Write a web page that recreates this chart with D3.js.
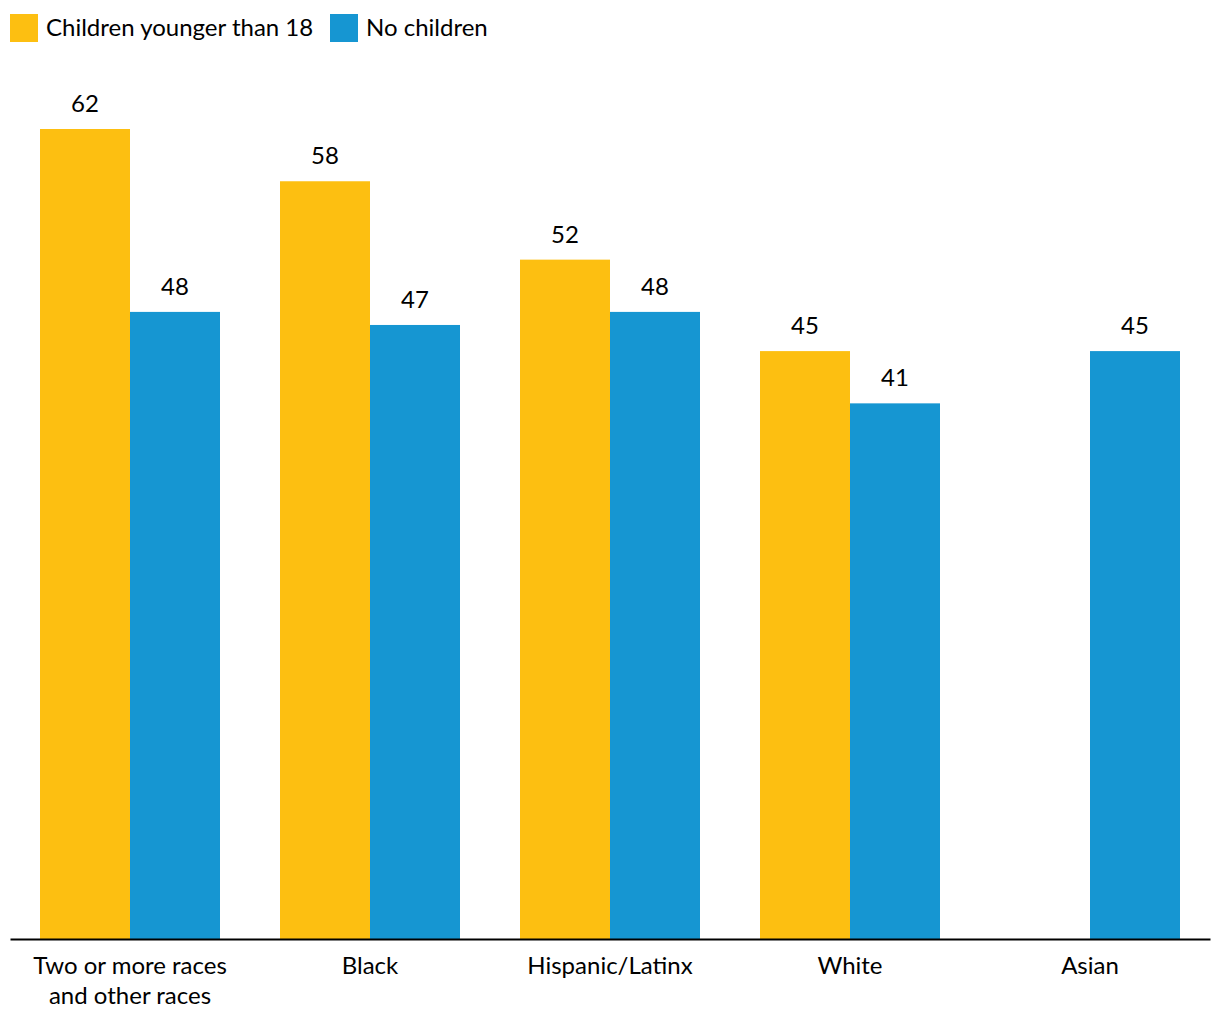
<!DOCTYPE html>
<html>
<head>
<meta charset="utf-8">
<script src="https://cdn.jsdelivr.net/npm/d3@7"></script>
<style>
  html, body { margin: 0; padding: 0; background: #fff; }
  svg { display: block; font-family: Lato, "Open Sans", sans-serif; }
</style>
</head>
<body>
<svg id="chart" width="1220" height="1020"></svg>
<script>
const categories = [["Two or more races", "and other races"], ["Black"], ["Hispanic/Latinx"], ["White"], ["Asian"]];
const seriesNames = ["Children younger than 18", "No children"];
const childrenValues = [62, 58, 52, 45, null];
const noChildrenValues = [48, 47, 48, 41, 45];
const colors = ["#fdbf11", "#1696d2"];

const svg = d3.select("#chart");
const baseY = 939;
const FS = 24;

const catKeys = categories.map(c => c.join(" "));
const x0 = d3.scaleBand().domain(catKeys).range([10, 1210]).paddingInner(0.25).paddingOuter(0.125);
const x1 = d3.scaleBand().domain(seriesNames).range([0, x0.bandwidth()]);
const y = d3.scaleLinear().domain([0, 62]).range([baseY, 129]);

const series = [childrenValues, noChildrenValues];

const groups = svg.append("g").selectAll("g")
  .data(catKeys)
  .join("g")
  .attr("transform", d => `translate(${x0(d)},0)`);

groups.each(function(key, i) {
  const g = d3.select(this);
  seriesNames.forEach((s, j) => {
    const v = series[j][i];
    if (v == null) return;
    g.append("rect")
      .attr("x", x1(s))
      .attr("y", y(v))
      .attr("width", x1.bandwidth())
      .attr("height", baseY - y(v))
      .attr("fill", colors[j]);
    g.append("text")
      .attr("x", x1(s) + x1.bandwidth() / 2)
      .attr("y", y(v) - 17)
      .attr("text-anchor", "middle")
      .attr("font-size", FS)
      .attr("fill", "#000")
      .text(v);
  });
});

// axis
const xAxis = d3.axisBottom(x0).tickSize(0).tickFormat("");
const axG = svg.append("g").attr("transform", `translate(0,${baseY})`).call(xAxis);
axG.select(".domain").attr("stroke", "#000").attr("stroke-width", 2);

catKeys.forEach((key, i) => {
  const t = svg.append("text")
    .attr("x", x0(key) + x0.bandwidth() / 2)
    .attr("y", 974)
    .attr("text-anchor", "middle")
    .attr("font-size", FS)
    .attr("fill", "#000");
  categories[i].forEach((line, k) => {
    t.append("tspan")
      .attr("x", x0(key) + x0.bandwidth() / 2)
      .attr("dy", k === 0 ? 0 : 30)
      .text(line);
  });
});

// legend
const legendX = [10, 330];
seriesNames.forEach((s, j) => {
  svg.append("rect")
    .attr("x", legendX[j]).attr("y", 14)
    .attr("width", 28).attr("height", 28)
    .attr("fill", colors[j]);
  svg.append("text")
    .attr("x", legendX[j] + 36).attr("y", 36)
    .attr("font-size", FS)
    .attr("fill", "#000")
    .text(s);
});
</script>
</body>
</html>
